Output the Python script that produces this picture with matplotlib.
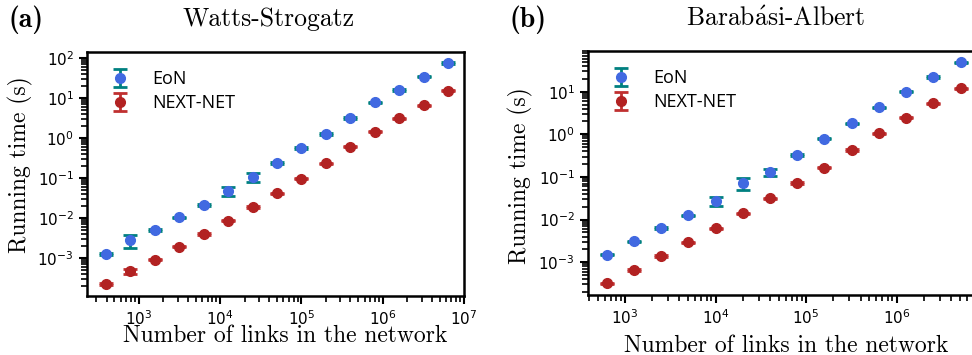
import numpy as np
import matplotlib
matplotlib.use("Agg")
from matplotlib import pyplot as plt
from matplotlib.ticker import LogLocator, NullFormatter

plt.rcParams['mathtext.fontset'] = 'dejavusans'
plt.rcParams['axes.formatter.use_mathtext'] = True

# Watts-Strogatz
ws_links = [390, 780, 1560, 3125, 6250, 12500, 25000, 50000, 1e5, 2e5, 4e5, 8e5, 1.6e6, 3.2e6, 6.4e6]
ws_eon = [1.23e-3, 2.8e-3, 4.9e-3, 1.02e-2, 2.1e-2, 4.7e-2, 0.107, 0.237, 0.56, 1.26, 3.2, 7.8, 15.8, 34, 74]
ws_eon_err = [0.05e-3, 1.0e-3, 0.2e-3, 0.4e-3, 1.0e-3, 1.2e-2, 0.028, 0.012, 0.03, 0.05, 0.15, 0.3, 0.6, 1.5, 3.0]
ws_nn = [2.2e-4, 4.6e-4, 8.9e-4, 1.9e-3, 3.9e-3, 8.4e-3, 1.85e-2, 4.1e-2, 9.6e-2, 0.233, 0.6, 1.44, 3.1, 6.6, 15]
ws_nn_err = [0.1e-4, 0.6e-4, 0.3e-4, 0.07e-3, 0.15e-3, 0.3e-3, 0.07e-2, 0.15e-2, 0.3e-2, 0.008, 0.02, 0.05, 0.1, 0.2, 0.5]

# Barabasi-Albert
ba_links = [625, 1250, 2500, 5000, 1e4, 2e4, 4e4, 8e4, 1.6e5, 3.2e5, 6.4e5, 1.28e6, 2.56e6, 5.12e6]
ba_eon = [1.5e-3, 3.1e-3, 6.3e-3, 1.26e-2, 2.7e-2, 7.1e-2, 0.13, 0.33, 0.79, 1.82, 4.3, 10, 22, 49]
ba_eon_err = [0.06e-3, 0.12e-3, 0.25e-3, 0.5e-3, 0.6e-2, 2.2e-2, 0.027, 0.012, 0.03, 0.07, 0.15, 0.35, 0.8, 1.8]
ba_nn = [3.2e-4, 6.6e-4, 1.4e-3, 2.95e-3, 6.3e-3, 1.4e-2, 3.15e-2, 7.2e-2, 0.166, 0.43, 1.06, 2.45, 5.3, 12]
ba_nn_err = [0.12e-4, 0.25e-4, 0.05e-3, 0.1e-3, 0.2e-3, 0.05e-2, 0.1e-2, 0.25e-2, 0.006, 0.015, 0.04, 0.09, 0.2, 0.4]

fig = plt.figure(figsize=(9.72, 3.55), dpi=100)
ax1 = fig.add_axes([87/972, 59/355, 377/972, 244/355])
# right panel runs past the figure edge, as in the original crop
ax2 = fig.add_axes([588/972, 60/355, 397/972, 244/355])

def panel(ax, x, eon, eon_err, nn, nn_err, xlim, ylim):
    ax.errorbar(x, eon, yerr=eon_err, fmt='o', color='royalblue', ecolor='teal',
                ms=7, capsize=5, capthick=2, elinewidth=2, label='EoN')
    ax.errorbar(x, nn, yerr=nn_err, fmt='o', color='firebrick', ecolor='#c03030',
                ms=7, capsize=5, capthick=2, elinewidth=2, label='NEXT-NET')
    ax.set_xscale('log')
    ax.set_yscale('log')
    ax.set_xlim(*xlim)
    ax.set_ylim(*ylim)
    ax.xaxis.set_major_locator(LogLocator(base=10, numticks=20))
    ax.xaxis.set_minor_locator(LogLocator(base=10, subs=np.arange(2, 10), numticks=20))
    ax.yaxis.set_major_locator(LogLocator(base=10, numticks=20))
    ax.yaxis.set_minor_locator(LogLocator(base=10, subs=np.arange(2, 10), numticks=20))
    ax.xaxis.set_minor_formatter(NullFormatter())
    ax.yaxis.set_minor_formatter(NullFormatter())
    ax.tick_params(which='major', direction='out', length=6, width=1.5, labelsize=11)
    ax.tick_params(which='minor', direction='out', length=4, width=1.2)
    for s in ax.spines.values():
        s.set_linewidth(1.8)
    ax.legend(loc='upper left', frameon=False, prop={'family': 'Open Sans', 'size': 13},
              handletextpad=1.0, borderaxespad=0.6, labelspacing=0.35, handlelength=1.6)
    ax.set_ylabel('Running time (s)', family='cmr10', fontsize=17)
    ax.set_xlabel('Number of links in the network', family='cmr10', fontsize=17)

panel(ax1, ws_links, ws_eon, ws_eon_err, ws_nn, ws_nn_err, (230, 1e7), (1.1e-4, 141))
panel(ax2, ba_links, ba_eon, ba_eon_err, ba_nn, ba_nn_err, (390, 9.5e6), (1.7e-4, 90))

ax1.xaxis.set_label_coords(0.527, -0.12)
ax2.xaxis.set_label_coords(0.5, -0.162)
ax1.yaxis.set_label_coords(-0.143, 0.537)
ax2.yaxis.set_label_coords(-0.138, 0.488)

fig.text(269/972, 1 - 19/355, 'Watts-Strogatz', family='cmr10', fontsize=18.5, ha='center', va='center')
fig.text(776/972, 1 - 19/355, r'Barab$\mathrm{\acute{a}}$si-Albert', family='cmr10', math_fontfamily='cm',
         fontsize=18.5, ha='center', va='center')
fig.text(8/972, 1 - 20/355, '(a)', family='cmb10', fontsize=20, ha='left', va='center')
fig.text(509/972, 1 - 20/355, '(b)', family='cmb10', fontsize=20, ha='left', va='center')

fig.savefig('out.png', dpi=100)
